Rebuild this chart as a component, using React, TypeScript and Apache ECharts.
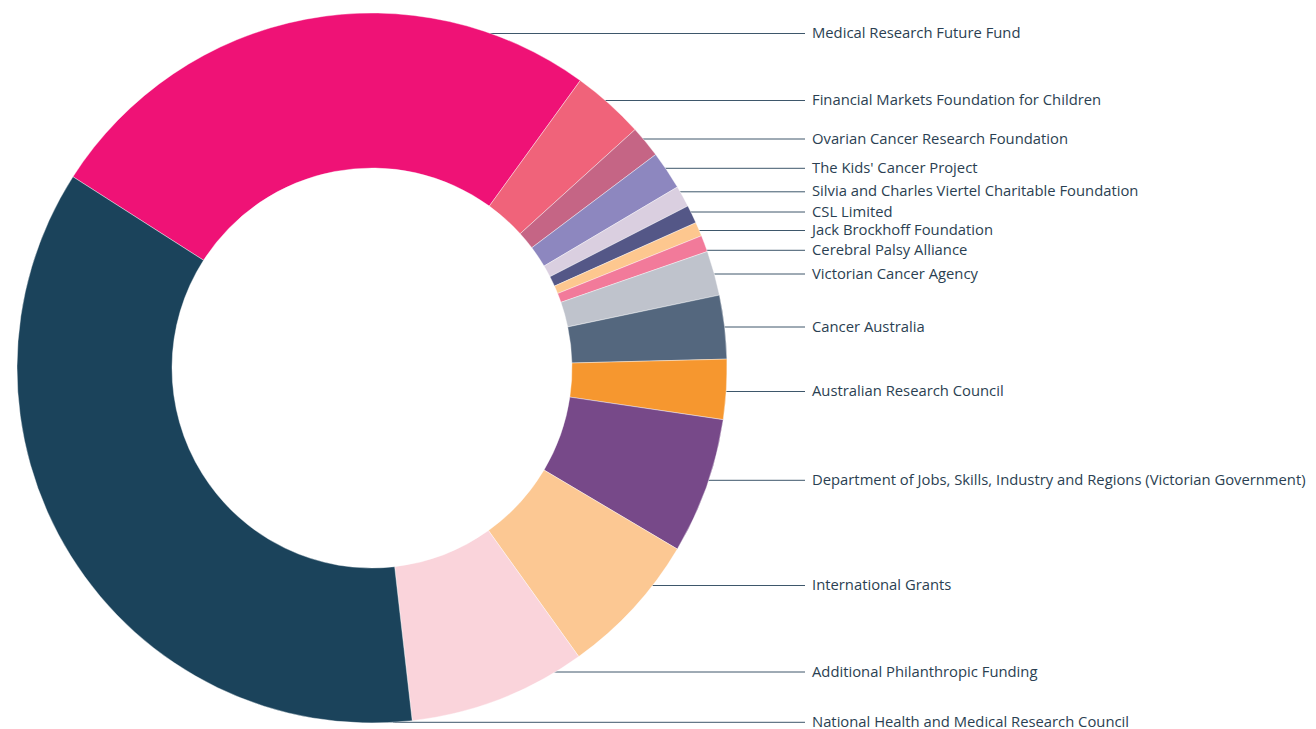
import React, { useEffect, useRef } from "react";
import * as echarts from "echarts";

const categories = [
  "Medical Research Future Fund",
  "Financial Markets Foundation for Children",
  "Ovarian Cancer Research Foundation",
  "The Kids' Cancer Project",
  "Silvia and Charles Viertel Charitable Foundation",
  "CSL Limited",
  "Jack Brockhoff Foundation",
  "Cerebral Palsy Alliance",
  "Victorian Cancer Agency",
  "Cancer Australia",
  "Australian Research Council",
  "Department of Jobs, Skills, Industry and Regions (Victorian Government)",
  "International Grants",
  "Additional Philanthropic Funding",
  "National Health and Medical Research Council",
];

// share of total funding (%)
const values = [25.9, 3.3, 1.45, 1.75, 0.97, 0.83, 0.64, 0.75, 2.03, 2.89, 2.72, 6.19, 6.58, 8.08, 35.83];

const colors = [
  "#EF1276", "#F0637A", "#C56585", "#8D87BF", "#DACFE0", "#545787", "#FDC78F",
  "#F27A9A", "#BFC3CC", "#54677E", "#F6972F", "#774989", "#FCC893", "#FAD4DB", "#1B435B",
];

// vertical position of each label row (layout)
const labelRows = [33.5, 100.5, 139, 168.3, 191.8, 212, 230.5, 250.3, 274, 327, 391.5, 480.3, 585.5, 672, 722.3];

const CX = 372;
const CY = 368;
const R_IN = 200;
const R_OUT = 355;
const LABEL_X = 812;
const LINE_END = 805;

export default function App() {
  const ref = useRef<HTMLDivElement>(null);
  useEffect(() => {
    document.body.style.margin = "0";
    const chart = echarts.init(ref.current!, null, { renderer: "svg" });
    chart.setOption({
      animation: false,
      backgroundColor: "#ffffff",
      series: [
        {
          type: "pie",
          center: [CX, CY],
          radius: [R_IN, R_OUT],
          startAngle: 147.4,
          clockwise: true,
          avoidLabelOverlap: false,
          itemStyle: { borderColor: "#ffffff", borderWidth: 0.4 },
          emphasis: { disabled: true },
          label: {
            show: true,
            position: "outside",
            formatter: "{b}",
            color: "#2B3F52",
            fontFamily: "Open Sans",
            fontSize: 14.8,
            lineHeight: 14,
          },
          labelLine: {
            show: true,
            lineStyle: { color: "#3E576B", width: 1 },
          },
          labelLayout: (params: any) => {
            const y = labelRows[params.dataIndex];
            const dy = y - CY;
            const ex = CX + Math.sqrt(Math.max(0, R_OUT * R_OUT - dy * dy)) - 1;
            return {
              x: LABEL_X,
              y: Math.min(y - 1.5, 720.5),
              align: "left",
              verticalAlign: "middle",
              labelLinePoints: [
                [ex, y],
                [ex + 1, y],
                [LINE_END, y],
              ],
            };
          },
          data: categories.map((name, i) => ({
            name,
            value: values[i],
            itemStyle: { color: colors[i] },
          })),
        },
      ],
    });
    return () => chart.dispose();
  }, []);
  return <div ref={ref} style={{ width: 1316, height: 729 }} />;
}
